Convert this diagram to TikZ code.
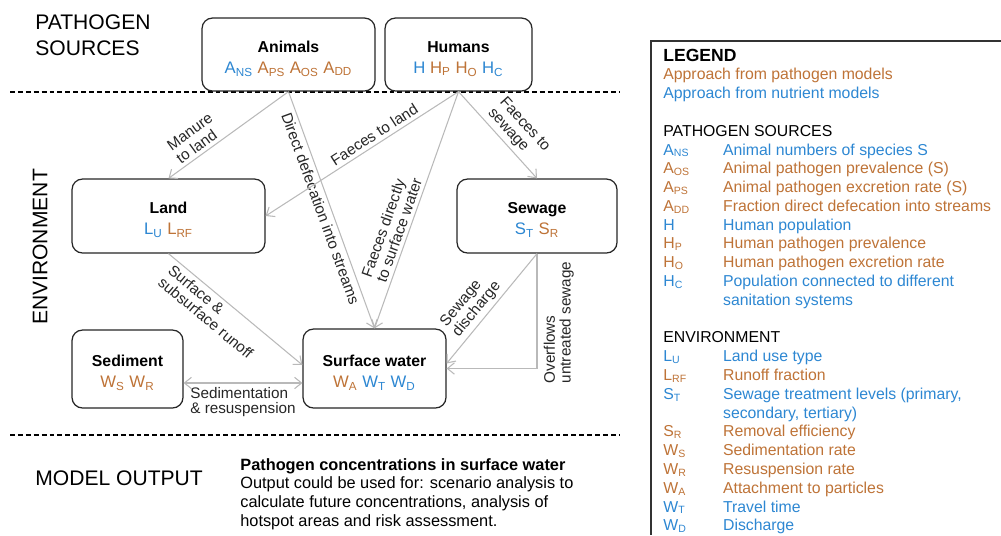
\documentclass[tikz,border=0pt]{standalone}
\usepackage{fontspec}
\setmainfont{Liberation Sans}
\usetikzlibrary{arrows.meta,positioning}

\definecolor{nutrientBlue}{RGB}{45,135,210}
\definecolor{pathogenBrown}{RGB}{190,115,55}
\definecolor{flowGray}{RGB}{185,185,185}
\newcommand{\nut}[1]{\textcolor{nutrientBlue}{#1}}
\newcommand{\pat}[1]{\textcolor{pathogenBrown}{#1}}
\newcommand{\vsub}[2]{#1\textsubscript{#2}}
\newcommand{\boxtitle}[1]{{\fontsize{9}{12}\selectfont\bfseries\rule{0pt}{11pt}#1}}

\begin{document}
\begin{tikzpicture}[x=0.02cm, y=-0.02cm,
				compBox/.style={draw=black!85, line width=0.7pt, rounded corners=6pt, fill=white, align=center, inner sep=0pt, font=\fontsize{9.5}{12}\selectfont},
				flowArrow/.style={draw=flowGray, line width=0.6pt, -{Straight Barb[length=4pt,width=6.5pt]}},
				flowLabel/.style={font=\fontsize{8.7}{9}\selectfont, align=left, text=black!85, inner sep=2pt},
				sepLine/.style={dash pattern=on 2.8pt off 1.7pt, line width=0.6pt},
				sectionText/.style={font=\fontsize{12}{14.7}\selectfont, align=left, inner sep=0pt}]
			\useasboundingbox (0,0) rectangle (1001,535);

			% separators and section titles
			\draw[sepLine] (10,92) -- (620,92);
			\draw[sepLine] (10,435) -- (620,435);
			\node[sectionText, anchor=west] (srcTitle) at (35,35) {PATHOGEN\\SOURCES};
			\node[sectionText, rotate=90] (envTitle) at (40,247) {ENVIRONMENT};
			\node[sectionText, anchor=west] (outTitle) at (35,478) {MODEL OUTPUT};

			% compartments
			\node[compBox, minimum width=3.46cm, minimum height=1.46cm] (animals) at (288.5,54.5)
				{\boxtitle{Animals}\\\nut{\vsub{A}{NS}} \pat{\vsub{A}{PS}} \pat{\vsub{A}{OS}} \pat{\vsub{A}{DD}}};
			\node[compBox, minimum width=2.94cm, minimum height=1.46cm] (humans) at (458.5,54.5)
				{\boxtitle{Humans}\\\nut{H} \pat{\vsub{H}{P}} \pat{\vsub{H}{O}} \nut{\vsub{H}{C}}};
			\node[compBox, minimum width=3.86cm, minimum height=1.48cm] (land) at (168.5,216)
				{\boxtitle{Land}\\\nut{\vsub{L}{U}} \pat{\vsub{L}{RF}}};
			\node[compBox, minimum width=3.2cm, minimum height=1.48cm] (sewage) at (537,216)
				{\boxtitle{Sewage}\\\nut{\vsub{S}{T}} \pat{\vsub{S}{R}}};
			\node[compBox, minimum width=2.22cm, minimum height=1.56cm] (sediment) at (127.5,369)
				{\boxtitle{Sediment}\\\pat{\vsub{W}{S}} \pat{\vsub{W}{R}}};
			\node[compBox, minimum width=2.86cm, minimum height=1.58cm] (water) at (374.5,368.5)
				{\boxtitle{Surface water}\\\pat{\vsub{W}{A}} \nut{\vsub{W}{T}} \nut{\vsub{W}{D}}};

			% flows from the sources
			\draw[flowArrow] (animals.south) -- node[flowLabel, sloped, above, pos=0.7] {Manure\\to land} (land.north);
			\draw[flowArrow] (animals.south) -- node[flowLabel, sloped, below, pos=0.48] {Direct defecation into streams} (water.north);
			\draw[flowArrow] (humans.south) -- node[flowLabel, sloped, above, pos=0.41] {Faeces to land} (land.east);
			\draw[flowArrow] (humans.south) -- node[flowLabel, sloped, above, pos=0.6] {Faeces directly\\to surface water} (water.north);
			\draw[flowArrow] (humans.south) -- node[flowLabel, sloped, above, pos=0.59] {Faeces to\\sewage} (sewage.north);

			% flows within the environment
			\draw[flowArrow] (land.south) -- node[flowLabel, sloped, below, pos=0.4] {Surface \&\\subsurface runoff} ([yshift=0.07cm]water.west);
			\draw[flowArrow, {Straight Barb[length=4pt,width=6.5pt]}-{Straight Barb[length=4pt,width=6.5pt]}]
				([yshift=-0.28cm]sediment.east) -- node[flowLabel, below, pos=0.5] {Sedimentation\\\& resuspension} ([yshift=-0.28cm]sediment.east -| water.west);
			\draw[flowArrow] (sewage.south) -- node[flowLabel, sloped, above, pos=0.57] {Sewage\\discharge} ([yshift=0.1cm]water.east);
			\draw[flowArrow] (sewage.south) |- node[flowLabel, rotate=90, below, pos=0.3, inner sep=3.5pt] {Overflows\\untreated sewage} (water.east);

			% model output
			\node[anchor=north west, align=left, inner sep=0pt, font=\fontsize{9.3}{10.6}\selectfont] (output) at (240,458)
				{\textbf{Pathogen concentrations in surface water}\\Output could be used for: scenario analysis to\\calculate future concentrations, analysis of\\hotspot areas and risk assessment.};

			% legend
			\draw[draw=black!80, line width=0.6pt] (1001,41) -| (651,535);
			\node[anchor=base west, inner sep=0pt, font=\fontsize{9}{10.7}\selectfont] (legend) at (663,61) {%
				\begin{tabular}[t]{@{}p{34pt}@{}l@{}}
					\multicolumn{2}{@{}l@{}}{\fontsize{10}{10.7}\selectfont\bfseries LEGEND}\\
					\multicolumn{2}{@{}l@{}}{\pat{Approach from pathogen models}}\\
					\multicolumn{2}{@{}l@{}}{\nut{Approach from nutrient models}}\\
					&\\
					\multicolumn{2}{@{}l@{}}{PATHOGEN SOURCES}\\
					\nut{\vsub{A}{NS}} & \nut{Animal numbers of species S}\\
					\pat{\vsub{A}{OS}} & \pat{Animal pathogen prevalence (S)}\\
					\pat{\vsub{A}{PS}} & \pat{Animal pathogen excretion rate (S)}\\
					\pat{\vsub{A}{DD}} & \pat{Fraction direct defecation into streams}\\
					\nut{H} & \nut{Human population}\\
					\pat{\vsub{H}{P}} & \pat{Human pathogen prevalence}\\
					\pat{\vsub{H}{O}} & \pat{Human pathogen excretion rate}\\
					\nut{\vsub{H}{C}} & \nut{Population connected to different}\\
					& \nut{sanitation systems}\\
					&\\
					\multicolumn{2}{@{}l@{}}{ENVIRONMENT}\\
					\nut{\vsub{L}{U}} & \nut{Land use type}\\
					\pat{\vsub{L}{RF}} & \pat{Runoff fraction}\\
					\nut{\vsub{S}{T}} & \nut{Sewage treatment levels (primary,}\\
					& \nut{secondary, tertiary)}\\
					\pat{\vsub{S}{R}} & \pat{Removal efficiency}\\
					\pat{\vsub{W}{S}} & \pat{Sedimentation rate}\\
					\pat{\vsub{W}{R}} & \pat{Resuspension rate}\\
					\pat{\vsub{W}{A}} & \pat{Attachment to particles}\\
					\nut{\vsub{W}{T}} & \nut{Travel time}\\
					\nut{\vsub{W}{D}} & \nut{Discharge}\\
				\end{tabular}};
		\end{tikzpicture}
\end{document}
